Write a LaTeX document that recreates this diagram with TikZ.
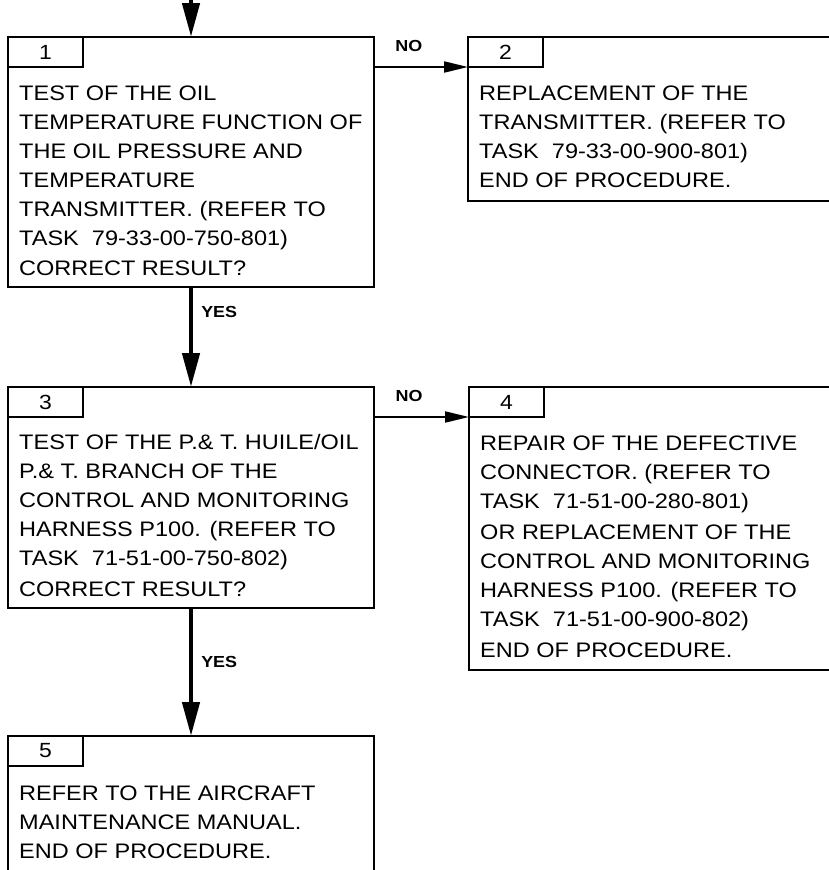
\documentclass[tikz,border=0pt]{standalone}
\usepackage{fontspec}
\setmainfont{Liberation Sans}
\newfontfamily\boxfont{Liberation Sans}[FakeStretch=1.12]
\usetikzlibrary{arrows.meta}

\begin{document}
\begin{tikzpicture}[
    x=1pt,
    y=-1pt,
    box/.style={draw, line width=2.7pt, anchor=north west, inner sep=0pt, outer sep=0pt},
    tab/.style={draw, line width=2.7pt, anchor=north west, inner sep=0pt, outer sep=0pt,
        minimum width=75pt, minimum height=30pt, font=\boxfont\fontsize{20.5}{20.5}\selectfont},
    txt/.style={anchor=north west, align=left, inner sep=0pt, xshift=11pt, yshift=-49pt,
        font=\boxfont\fontsize{21}{29}\selectfont},
    yesarrow/.style={line width=4.5pt, -{Triangle[length=34pt,width=17pt]}},
    noarrow/.style={line width=2pt, -{Triangle[length=24pt,width=11pt]}},
    answer/.style={inner sep=0pt, font=\boxfont\bfseries\fontsize{16}{16}\selectfont},
]

% Page size 829 x 870 px
\useasboundingbox (0,0) rectangle (829,870);
\clip (0,0) rectangle (829,870);

% Boxes
\node[box, minimum width=366pt, minimum height=250pt] (box1) at (8,37) {};
\node[box, minimum width=420pt, minimum height=164pt] (box2) at (468,37) {};
\node[box, minimum width=366pt, minimum height=221pt] (box3) at (8,387) {};
\node[box, minimum width=420pt, minimum height=283pt] (box4) at (469,387) {};
\node[box, minimum width=366pt, minimum height=200pt] (box5) at (8,736) {};

% Number tabs
\node[tab] (tab1) at (box1.north west) {1};
\node[tab] (tab2) at (box2.north west) {2};
\node[tab] (tab3) at (box3.north west) {3};
\node[tab] (tab4) at (box4.north west) {4};
\node[tab] (tab5) at (box5.north west) {5};

% Texts
\node[txt] (text1) at (box1.north west) {TEST OF THE OIL\\TEMPERATURE FUNCTION OF\\THE OIL PRESSURE AND\\TEMPERATURE\\TRANSMITTER. (REFER TO\\TASK\ \ 79-33-00-750-801)\\[1pt]CORRECT RESULT?};
\node[txt] (text2) at (box2.north west) {REPLACEMENT OF THE\\TRANSMITTER. (REFER TO\\TASK\ \ 79-33-00-900-801)\\END OF PROCEDURE.};
\node[txt, yshift=2pt] (text3) at (box3.north west) {TEST OF THE P.\& T. HUILE/OIL\\P.\& T. BRANCH OF THE\\CONTROL AND MONITORING\\HARNESS P100. (REFER TO\\TASK\ \ 71-51-00-750-802)\\[2pt]CORRECT RESULT?};
\node[txt] (text4) at (box4.north west) {REPAIR OF THE DEFECTIVE\\CONNECTOR. (REFER TO\\TASK\ \ 71-51-00-280-801)\\[2pt]OR REPLACEMENT OF THE\\CONTROL AND MONITORING\\HARNESS P100. (REFER TO\\TASK\ \ 71-51-00-900-802)\\[2pt]END OF PROCEDURE.};
\node[txt, yshift=-1pt] (text5) at (box5.north west) {REFER TO THE AIRCRAFT\\MAINTENANCE MANUAL.\\END OF PROCEDURE.};

% Entry arrow
\coordinate (entry) at (191,-2);
\draw[yesarrow] (entry) -- (box1.north);

% YES arrows
\draw[yesarrow] (box1.south) -- node[answer, pos=0.245, anchor=west, xshift=8pt] {YES} (box3.north);
\draw[yesarrow] (box3.south) -- node[answer, pos=0.42, anchor=west, xshift=8pt] {YES} (box5.north);

% NO arrows
\draw[noarrow] (box1.east |- tab2.south west) -- node[answer, pos=0.37, above=14pt] {NO} (tab2.south west);
\draw[noarrow] (box3.east |- tab4.south west) -- node[answer, pos=0.37, above=14pt] {NO} (tab4.south west);

\end{tikzpicture}
\end{document}
